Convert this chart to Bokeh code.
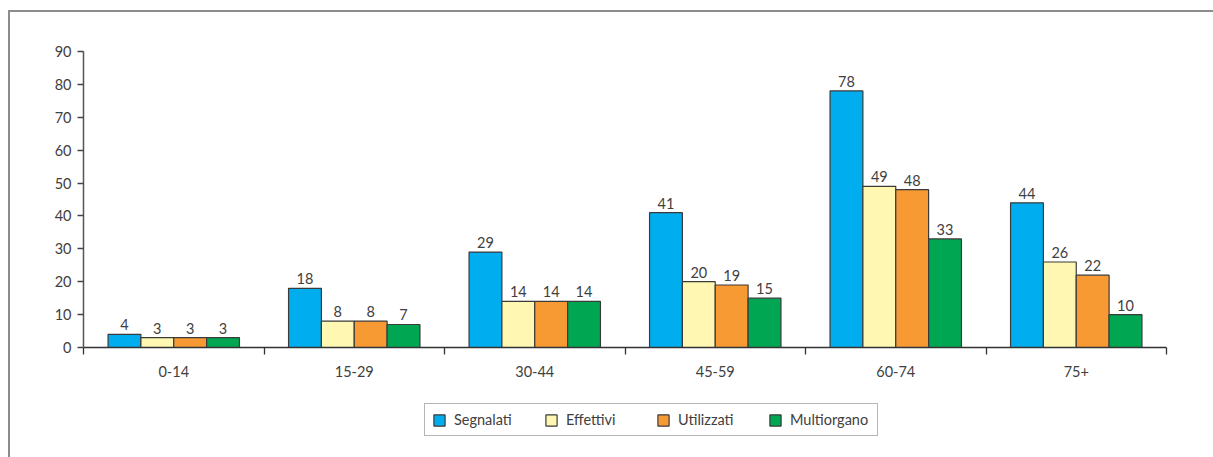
from bokeh.plotting import figure
from bokeh.layouts import column
from bokeh.models import FixedTicker, ColumnDataSource, Range1d, Legend, LegendItem
from bokeh.core.properties import value
from bokeh.embed import file_html
from bokeh.resources import INLINE

# Donor counts by age group
age_groups = ["0-14", "15-29", "30-44", "45-59", "60-74", "75+"]
series_names = ["Segnalati", "Effettivi", "Utilizzati", "Multiorgano"]
segnalati = [4, 18, 29, 41, 78, 44]
effettivi = [3, 8, 14, 20, 49, 26]
utilizzati = [3, 8, 14, 19, 48, 22]
multiorgano = [3, 7, 14, 15, 33, 10]
series_values = [segnalati, effettivi, utilizzati, multiorgano]
colors = ["#00aeef", "#fff7b2", "#f79a33", "#00a651"]
y_ticks = list(range(0, 100, 10))

FONT = "Lato"
FONT_SIZE = "14.5px"
TEXT_COLOR = "#404040"
BAR_LINE = "#3a3a3a"

# ---- main bar chart ----
p = figure(
    width=1203, height=375,
    x_range=Range1d(0, len(age_groups)), y_range=Range1d(0, 90),
    output_backend="svg", toolbar_location=None,
    min_border_left=73, min_border_right=47,
    min_border_top=39, min_border_bottom=40,
)
p.outline_line_color = None
p.xgrid.visible = False
p.ygrid.visible = False

bar_w = 0.182
n = len(series_names)
for k, (name, vals, col) in enumerate(zip(series_names, series_values, colors)):
    offset = (k - (n - 1) / 2) * bar_w
    xs = [i + 0.5 + offset for i in range(len(age_groups))]
    src = ColumnDataSource(dict(x=xs, top=vals, label=[str(v) for v in vals]))
    p.vbar(x="x", top="top", width=bar_w, source=src,
           fill_color=col, line_color=BAR_LINE, line_width=1.2)
    p.text(x="x", y="top", text="label", source=src,
           text_align="center", text_baseline="bottom", y_offset=-4,
           text_font=value(FONT), text_font_size=FONT_SIZE, text_color=TEXT_COLOR)

# x axis: labels at group centres, ticks at group boundaries
centers = [i + 0.5 for i in range(len(age_groups))]
xa = p.xaxis[0]
xa.ticker = FixedTicker(ticks=centers, minor_ticks=list(range(len(age_groups) + 1)))
xa.major_label_overrides = {c: g for c, g in zip(centers, age_groups)}
xa.major_tick_out = 0
xa.major_tick_in = 0
xa.minor_tick_out = 7
xa.minor_tick_in = 0
xa.minor_tick_line_color = "#333333"
xa.minor_tick_line_width = 1.3
xa.axis_line_color = "#333333"
xa.axis_line_width = 1.3
xa.major_label_standoff = 11
xa.major_label_text_font = FONT
xa.major_label_text_font_size = FONT_SIZE
xa.major_label_text_color = TEXT_COLOR

ya = p.yaxis[0]
ya.ticker = FixedTicker(ticks=y_ticks)
ya.major_tick_out = 6
ya.major_tick_in = 0
ya.minor_tick_line_color = None
ya.axis_line_color = "#555555"
ya.axis_line_width = 1.5
ya.major_tick_line_color = "#444444"
ya.major_tick_line_width = 1.3
ya.major_label_standoff = 6
ya.major_label_text_font = FONT
ya.major_label_text_font_size = FONT_SIZE
ya.major_label_text_color = TEXT_COLOR

# ---- legend strip under the chart ----
leg_fig = figure(
    width=1203, height=70,
    x_range=Range1d(0, 1), y_range=Range1d(0, 1),
    output_backend="svg", toolbar_location=None,
    x_axis_location=None, y_axis_location=None,
    min_border=0,
)
leg_fig.outline_line_color = None
leg_fig.grid.visible = False

# swatch renderers sit outside the strip's visible range; only their legend entries show
items = []
for name, col in zip(series_names, colors):
    swatch = leg_fig.vbar(x=[-1], top=[-1], bottom=-2, width=0.1,
                          fill_color=col, line_color=BAR_LINE, line_width=1.2)
    items.append(LegendItem(label=name, renderers=[swatch]))

lg = Legend(
    items=items,
    orientation="horizontal",
    location=(341, 21),
    glyph_width=14, glyph_height=14,
    label_standoff=8, label_width=80, label_height=14,
    spacing=10, padding=7, margin=0,
    border_line_color="#6e6e6e", border_line_width=1.5,
    label_text_font=FONT, label_text_font_size=FONT_SIZE,
    label_text_color=TEXT_COLOR,
)
leg_fig.add_layout(lg)

# grey panel edge on the top and left sides
layout = column(
    p, leg_fig, spacing=0,
    styles={
        "margin-left": "8px",
        "margin-top": "10px",
        "border-top": "2px solid #8c8c8c",
        "border-left": "2px solid #8c8c8c",
    },
)

open("out.html", "w").write(file_html(layout, INLINE))
